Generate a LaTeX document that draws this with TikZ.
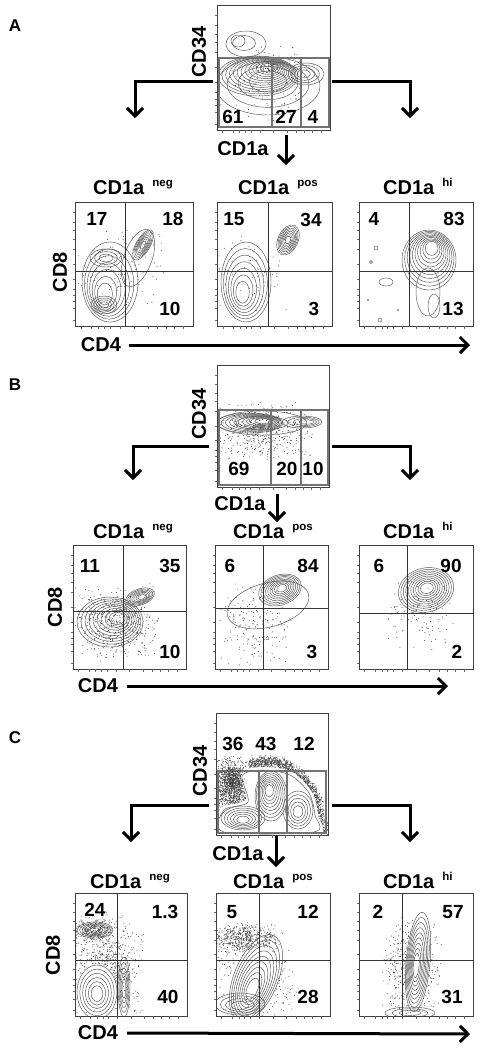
\documentclass[tikz,border=0pt]{standalone}
\usepackage{fontspec}
\setmainfont{Liberation Sans}
\usetikzlibrary{arrows.meta,calc}
\tikzset{
  pnode/.style={inner sep=0pt, outer sep=0pt},
  plotbox/.style={draw=black!75, line width=0.8pt},
  tick/.style={draw=black!60, line width=0.5pt},
  gate/.style={draw=black!55, line width=1.3pt},
  quad/.style={draw=black!80, line width=0.8pt},
  cl/.style={draw=black!68, line width=0.45pt},
  dotc/.style={fill=black!75},
  flow/.style={line width=3pt, -{Straight Barb[length=8pt,width=16pt]}},
  num/.style={font=\fontsize{19}{19}\selectfont\bfseries, inner sep=0pt},
  lab/.style={font=\fontsize{20}{20}\selectfont\bfseries, inner sep=0pt},
  hdr/.style={font=\fontsize{20}{20}\selectfont\bfseries, inner sep=0pt, anchor=base west},
  pl/.style={font=\fontsize{17}{17}\selectfont\bfseries, inner sep=0pt}
}
\newcommand{\rings}[8]{%
  \foreach \k in {1,...,#6}{%
    \pgfmathsetmacro\s{1-(\k-1)/#6*0.85}%
    \pgfmathsetmacro\f{(\k-1)/#6}%
    \draw[cl] ({#1+#7*\f},{#2+#8*\f}) ellipse [x radius={#3*\s}, y radius={#4*\s}, rotate=#5];}}
\newcommand{\scat}[5]{%
  \foreach \k in {1,...,#5}{%
    \fill[dotc] ({#1+#3*(rand+rand)/2},{#2+#4*(rand+rand)/2}) circle [radius=0.5];}}
\newcommand{\arcscat}[8]{%
  \foreach \k in {1,...,#8}{%
    \pgfmathsetmacro\a{#5+(#6-#5)*rnd}%
    \pgfmathsetmacro\w{#7*(rand+rand)/2}%
    \fill[dotc] ({#1+(#3+\w)*cos(\a)},{#2-(#4+\w)*sin(\a)}) circle [radius=0.5];}}
\newcommand{\pframe}[1]{%
  \draw[plotbox] (#1.south west) rectangle (#1.north east);
  \foreach \t in {0.05,0.14,0.2,0.25,0.3,0.38,0.5,0.62,0.7,0.77,0.84,0.92}{
    \draw[tick] ($(#1.south west)!\t!(#1.north west)$) -- ++(-2.5,0);
    \draw[tick] ($(#1.south west)!\t!(#1.south east)$) -- ++(0,2.5);}}
\newcommand{\subhdr}[1]{CD1a\hspace{8pt}\raisebox{7.5pt}{\fontsize{11.5}{11.5}\selectfont #1}}
\begin{document}
\begin{tikzpicture}[x=1pt,y=-1pt]
\pgfmathsetseed{7}
\fill[white] (0,0) rectangle (480,1050);
\useasboundingbox (0,0) rectangle (480,1050);

% ================= PANEL A =================
\node[pl] (lA) at (15,26) {A};
\node[pnode, minimum width=113pt, minimum height=125pt] (At) at (273.5,67.5) {};
\begin{scope}
  \clip (At.south west) rectangle (At.north east);
  \scat{268}{82}{55}{45}{120}
  \rings{268}{86}{52}{29}{0}{4}{0}{-6}
  \rings{258}{76}{40}{20}{0}{12}{12}{-9}
  \rings{306}{74}{18}{11}{0}{4}{-3}{0}
  \rings{246}{44}{20}{13}{0}{2}{-4}{-2}
  \draw[cl] (238,41) ellipse [x radius=7, y radius=6];
  \scat{268}{68}{14}{7}{70}
\end{scope}
\draw[gate] (219,58) rectangle (272,127);
\draw[gate] (272,58) rectangle (301,127);
\draw[gate] (301,58) rectangle (329,127);
\pframe{At}
\node[num] (nA61) at (233,117) {61};
\node[num] (nA27) at (286,117) {27};
\node[num] (nA4) at (313,117) {4};
\node[lab, rotate=90] (A34) at (199,52) {CD34};
\node[lab] (A1a) at (243,149) {CD1a};
\coordinate (AL0) at (213,81);  \coordinate (AL1) at (135,118);
\coordinate (AR0) at (332,81);  \coordinate (AR1) at (410,118);
\coordinate (AM0) at (286,135); \coordinate (AM1) at (286,165);
\draw[flow] (AL0) -| (AL1);
\draw[flow] (AR0) -| (AR1);
\draw[flow] (AM0) -- (AM1);
\node[hdr] (hA1) at (93,194) {\subhdr{neg}};
\node[hdr] (hA2) at (238,194) {\subhdr{pos}};
\node[hdr] (hA3) at (383,194) {\subhdr{hi}};

\node[pnode, minimum width=118pt, minimum height=124pt] (A1) at (134,264) {};
\node[pnode, minimum width=115pt, minimum height=124pt] (A2) at (274.5,264) {};
\node[pnode, minimum width=114pt, minimum height=124pt] (A3) at (416,264) {};
\begin{scope}
  \clip (A1.south west) rectangle (A1.north east);
  \scat{118}{268}{50}{50}{110}
  \rings{110}{282}{28}{40}{0}{7}{-6}{14}
  \rings{106}{258}{16}{9}{0}{3}{0}{0}
  \rings{104}{305}{13}{9}{0}{4}{0}{0}
  \rings{143}{245}{7}{17}{-30}{7}{0}{0}
  \draw[cl] (138,258) ellipse [x radius=14, y radius=30, rotate=-20];
\end{scope}
\begin{scope}
  \clip (A2.south west) rectangle (A2.north east);
  \scat{255}{275}{45}{45}{60}
  \rings{246}{282}{25}{40}{0}{7}{-4}{12}
  \rings{288}{240}{10}{16}{-25}{8}{0}{0}
\end{scope}
\begin{scope}
  \clip (A3.south west) rectangle (A3.north east);
  \rings{429}{260}{27}{30}{0}{10}{3}{-13}
  \draw[cl] (428,292) ellipse [x radius=12, y radius=24];
  \draw[cl] (434,306) ellipse [x radius=6, y radius=12];
  \draw[cl] (386,282) ellipse [x radius=7, y radius=4];
  \draw[cl] (376,248) circle [radius=2];
  \draw[cl] (371,262) circle [radius=1.5];
  \draw[cl] (380,320) circle [radius=2];
  \fill[dotc] (368,300) circle [radius=0.8];
  \fill[dotc] (398,310) circle [radius=0.8];
\end{scope}
\draw[quad] (125,202) -- (125,326);  \draw[quad] (75,271) -- (193,271);
\draw[quad] (268,202) -- (268,326);  \draw[quad] (217,271) -- (332,271);
\draw[quad] (409,202) -- (409,326);  \draw[quad] (359,271) -- (473,271);
\pframe{A1}\pframe{A2}\pframe{A3}
\node[num] (nA17) at (97,219) {17};
\node[num] (nA18) at (173,219) {18};
\node[num] (nA10) at (170,309) {10};
\node[num] (nA15) at (234,219) {15};
\node[num] (nA34) at (311,220) {34};
\node[num] (nA3) at (314,309) {3};
\node[num] (nA4b) at (374,219) {4};
\node[num] (nA83) at (454,219) {83};
\node[num] (nA13) at (453,309) {13};
\node[lab, rotate=90] (A8) at (60,272) {CD8};
\node[lab] (A4l) at (101,345) {CD4};
\coordinate (AX1) at (470,345);
\draw[flow] ([xshift=8pt]A4l.east) -- (AX1);

% ================= PANEL B =================
\node[pl] (lB) at (15,385) {B};
\node[pnode, minimum width=112pt, minimum height=122pt] (Bt) at (273,426) {};
\begin{scope}
  \clip (Bt.south west) rectangle (Bt.north east);
  \scat{262}{432}{55}{32}{450}
  \rings{262}{423}{45}{12}{0}{2}{0}{0}
  \rings{250}{423}{33}{10}{0}{10}{14}{-2}
  \rings{302}{422}{20}{6}{0}{4}{6}{0}
\end{scope}
\draw[gate] (219,410) rectangle (271,485);
\draw[gate] (271,410) rectangle (301,485);
\draw[gate] (301,410) rectangle (328,485);
\pframe{Bt}
\node[num] (nB69) at (239,469) {69};
\node[num] (nB20) at (287,469) {20};
\node[num] (nB10) at (313,469) {10};
\node[lab, rotate=90] (B34) at (199,414) {CD34};
\node[lab] (B1a) at (240,504) {CD1a};
\coordinate (BL0) at (209,446);  \coordinate (BL1) at (133,480);
\coordinate (BR0) at (332,446);  \coordinate (BR1) at (410,480);
\coordinate (BM0) at (277,494);  \coordinate (BM1) at (277,522);
\draw[flow] (BL0) -| (BL1);
\draw[flow] (BR0) -| (BR1);
\draw[flow] (BM0) -- (BM1);
\node[hdr] (hB1) at (93,538) {\subhdr{neg}};
\node[hdr] (hB2) at (233,538) {\subhdr{pos}};
\node[hdr] (hB3) at (383,538) {\subhdr{hi}};

\node[pnode, minimum width=113pt, minimum height=124pt] (B1) at (129.5,607) {};
\node[pnode, minimum width=113pt, minimum height=124pt] (B2) at (271.5,607) {};
\node[pnode, minimum width=114pt, minimum height=124pt] (B3) at (416,607) {};
\begin{scope}
  \clip (B1.south west) rectangle (B1.north east);
  \scat{115}{622}{45}{40}{500}
  \rings{110}{622}{33}{25}{0}{9}{8}{-4}
  \rings{140}{597}{15}{8}{20}{7}{2}{0}
\end{scope}
\begin{scope}
  \clip (B2.south west) rectangle (B2.north east);
  \scat{255}{625}{40}{45}{200}
  \draw[cl] (268,605) ellipse [x radius=42, y radius=22, rotate=15];
  \rings{280}{590}{22}{15}{20}{9}{2}{-2}
\end{scope}
\begin{scope}
  \clip (B3.south west) rectangle (B3.north east);
  \scat{418}{612}{40}{40}{130}
  \rings{426}{590}{28}{22}{15}{10}{1}{-2}
\end{scope}
\draw[quad] (123,545) -- (123,669);  \draw[quad] (73,611) -- (186,611);
\draw[quad] (263,545) -- (263,669);  \draw[quad] (215,608) -- (328,608);
\draw[quad] (407,545) -- (407,669);  \draw[quad] (359,613) -- (473,613);
\pframe{B1}\pframe{B2}\pframe{B3}
\node[num] (nB11) at (90,566) {11};
\node[num] (nB35) at (170,566) {35};
\node[num] (nB10b) at (170,652) {10};
\node[num] (nB6) at (230,566) {6};
\node[num] (nB84) at (308,566) {84};
\node[num] (nB3) at (312,652) {3};
\node[num] (nB6b) at (379,566) {6};
\node[num] (nB90) at (451,566) {90};
\node[num] (nB2) at (457,652) {2};
\node[lab, rotate=90] (B8) at (55,607) {CD8};
\node[lab] (B4l) at (98,686) {CD4};
\coordinate (BX1) at (448,686);
\draw[flow] ([xshift=9pt]B4l.east) -- (BX1);

% ================= PANEL C =================
\node[pl] (lC) at (15,738) {C};
\node[pnode, minimum width=112pt, minimum height=122pt] (Ct) at (272,774) {};
\begin{scope}
  \clip (Ct.south west) rectangle (Ct.north east);
  \scat{234}{790}{24}{36}{1300}
  \arcscat{268}{832}{54}{70}{-5}{110}{7}{1300}
  \fill[white] plot[smooth cycle] coordinates {(240,773) (262,767) (292,772) (312,792) (318,815) (317,836) (222,836) (221,808) (246,800)};
  \draw[cl] plot[smooth cycle] coordinates {(242,776) (262,770) (290,775) (309,793) (315,815) (314,832) (224,832) (224,810) (248,802)};
  \rings{271}{796}{16}{25}{0}{8}{-2}{-6}
  \rings{243}{818}{22}{12}{0}{6}{0}{2}
  \rings{298}{810}{15}{19}{0}{5}{0}{2}
\end{scope}
\draw[gate] (218,771) rectangle (259,833);
\draw[gate] (259,771) rectangle (287,833);
\draw[gate] (287,771) rectangle (326,833);
\begin{scope}
  \clip (Ct.south west) rectangle (Ct.north east);
  \scat{232}{780}{15}{14}{350}
\end{scope}
\pframe{Ct}
\node[num] (nC36) at (233,744) {36};
\node[num] (nC43) at (266,744) {43};
\node[num] (nC12) at (304,744) {12};
\node[lab, rotate=90] (C34) at (200,771) {CD34};
\node[lab] (C1a) at (238,854) {CD1a};
\coordinate (CL0) at (209,805);  \coordinate (CL1) at (131,842);
\coordinate (CR0) at (332,805);  \coordinate (CR1) at (410,842);
\coordinate (CM0) at (276,836);  \coordinate (CM1) at (276,867);
\draw[flow] (CL0) -| (CL1);
\draw[flow] (CR0) -| (CR1);
\draw[flow] (CM0) -- (CM1);
\node[hdr] (hC1) at (90,888) {\subhdr{neg}};
\node[hdr] (hC2) at (233,888) {\subhdr{pos}};
\node[hdr] (hC3) at (383,888) {\subhdr{hi}};

\node[pnode, minimum width=112pt, minimum height=123pt] (C1) at (131,954.5) {};
\node[pnode, minimum width=114pt, minimum height=123pt] (C2) at (273,954.5) {};
\node[pnode, minimum width=114pt, minimum height=123pt] (C3) at (416,954.5) {};
\begin{scope}
  \clip (C1.south west) rectangle (C1.north east);
  \scat{105}{965}{40}{55}{700}
  \scat{95}{930}{22}{12}{200}
  \fill[white] (97,990) ellipse [x radius=20, y radius=26];
  \rings{95}{930}{18}{8}{0}{6}{0}{0}
  \rings{97}{992}{20}{27}{0}{6}{0}{2}
  \rings{124}{987}{6}{30}{0}{5}{0}{2}
\end{scope}
\begin{scope}
  \clip (C2.south west) rectangle (C2.north east);
  \scat{245}{938}{38}{16}{550}
  \scat{255}{985}{45}{40}{450}
  \fill[white] (252,985) ellipse [x radius=24, y radius=40, rotate=-22];
  \rings{256}{978}{22}{46}{-22}{9}{-4}{12}
  \rings{240}{1004}{25}{11}{0}{4}{0}{2}
\end{scope}
\begin{scope}
  \clip (C3.south west) rectangle (C3.north east);
  \scat{412}{968}{32}{52}{600}
  \fill[white] (418,962) ellipse [x radius=12, y radius=48, rotate=-5];
  \rings{418}{962}{12}{50}{-5}{9}{-2}{4}
  \rings{410}{1013}{25}{6}{0}{3}{0}{0}
\end{scope}
\draw[quad] (117,893) -- (117,1016);  \draw[quad] (75,960) -- (187,960);
\draw[quad] (259,893) -- (259,1016);  \draw[quad] (216,960) -- (330,960);
\draw[quad] (402,893) -- (402,1016);  \draw[quad] (359,960) -- (473,960);
\pframe{C1}\pframe{C2}\pframe{C3}
\node[num] (nC24) at (95,910) {24};
\node[num] (nC13) at (165,912) {1.3};
\node[num] (nC40) at (168,997) {40};
\node[num] (nC5) at (232,912) {5};
\node[num] (nC12b) at (308,912) {12};
\node[num] (nC28) at (308,997) {28};
\node[num] (nC2) at (378,912) {2};
\node[num] (nC57) at (453,912) {57};
\node[num] (nC31) at (452,997) {31};
\node[lab, rotate=90] (C8) at (53,955) {CD8};
\node[lab] (C4l) at (98,1033) {CD4};
\coordinate (CX1) at (470,1034);
\draw[flow] ([xshift=9pt]C4l.east) -- (CX1);
\end{tikzpicture}
\end{document}
